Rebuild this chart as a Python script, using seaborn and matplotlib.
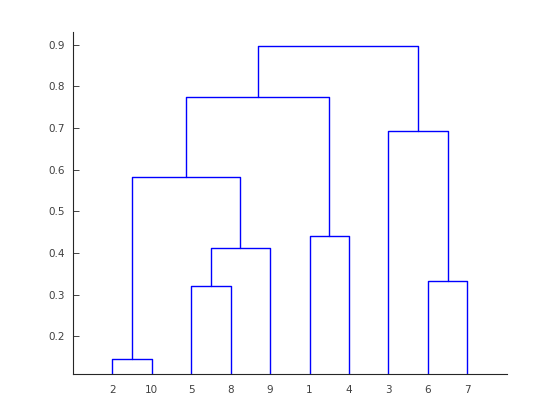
import numpy as np
import pandas as pd
import matplotlib
matplotlib.use("Agg")
import matplotlib.pyplot as plt
import seaborn as sns

# leaf order along the x axis (original observation labels)
leaf_order = [2, 10, 5, 8, 9, 1, 4, 3, 6, 7]

# linkage table (MATLAB style): clusters 11.. are formed in this order
link_left = [2, 5, 6, 12, 1, 11, 3, 16, 18]
link_right = [10, 8, 7, 9, 4, 14, 13, 15, 17]
link_height = [0.146, 0.320, 0.332, 0.413, 0.440, 0.582, 0.692, 0.774, 0.898]

n_leaves = len(leaf_order)

# position and height of every node
node_x = {leaf: i + 1 for i, leaf in enumerate(leaf_order)}
node_h = {leaf: 0.0 for leaf in leaf_order}

rows = []
for k, (a, b, h) in enumerate(zip(link_left, link_right, link_height)):
    cid = n_leaves + 1 + k
    xa, xb = node_x[a], node_x[b]
    ha, hb = node_h[a], node_h[b]
    # U-shaped link: down-left leg, bar, down-right leg
    for order, (x, y) in enumerate([(xa, ha), (xa, h), (xb, h), (xb, hb)]):
        rows.append({"link": cid, "step": order, "x": x, "y": y})
    node_x[cid] = (xa + xb) / 2
    node_h[cid] = h

df = pd.DataFrame(rows)

sns.set_style("white")
fig = plt.figure(figsize=(5.6, 4.2), dpi=100)
ax = fig.add_axes([0.13, 0.11, 0.775, 0.815])

sns.lineplot(
    data=df, x="x", y="y", units="link", estimator=None, sort=False,
    color=(0, 0, 1), lw=1.0, ax=ax, legend=False
)

ax.set_xlim(0, n_leaves + 1)
ax.set_ylim(0.110, 0.932)
ax.set_xticks(range(1, n_leaves + 1))
ax.set_xticklabels([str(l) for l in leaf_order])
ax.set_yticks(np.arange(0.2, 0.95, 0.1))
ax.set_yticklabels([f"{v:.1f}" for v in np.arange(0.2, 0.95, 0.1)])
ax.set_xlabel("")
ax.set_ylabel("")

for side in ["top", "right"]:
    ax.spines[side].set_visible(False)
for side in ["left", "bottom"]:
    ax.spines[side].set_color("#262626")
    ax.spines[side].set_linewidth(0.8)

ax.tick_params(left=True, bottom=True, direction="in", length=4, width=0.6,
               colors="#262626", labelsize=7.5, labelcolor="#404040", pad=6)
ax.tick_params(axis="x", pad=8)

plt.savefig("out.png", dpi=100)
plt.close()
